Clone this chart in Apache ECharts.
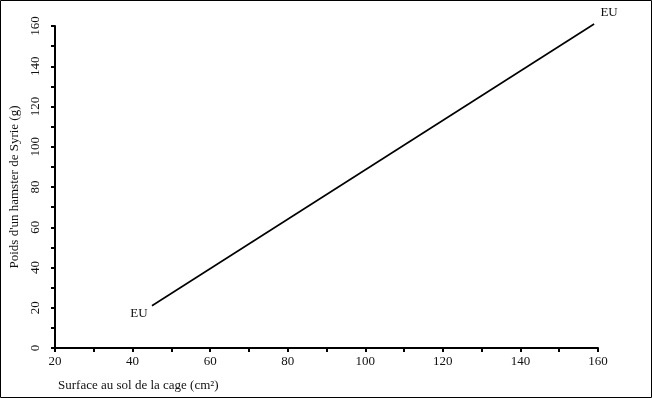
<!DOCTYPE html>
<html><head><meta charset="utf-8">
<script src="https://cdn.jsdelivr.net/npm/echarts@6/dist/echarts.min.js"></script>
<style>html,body{margin:0;padding:0;background:#fff}#c{width:652px;height:398px}</style>
</head><body><div id="c"></div>
<script>
const xTicks = [20, 40, 60, 80, 100, 120, 140, 160];
const yTicks = [0, 20, 40, 60, 80, 100, 120, 140, 160];
const lineX = [45, 159];
const lineY = [21, 161];
const pointLabels = ['EU', 'EU'];
const xTitle = 'Surface au sol de la cage (cm²)';
const yTitle = "Poids d'un hamster de Syrie (g)";

const font = 'Liberation Serif, DejaVu Serif, serif';
const chart = echarts.init(document.getElementById('c'));
chart.setOption({
  animation: false,
  backgroundColor: '#fff',
  title: {text: xTitle, left: 53, top: 374, textStyle: {fontFamily: font, fontSize: 13, fontWeight: 'normal', color: '#111'}},
  graphic: [{type: 'rect', shape: {x: 0.5, y: 0.5, width: 651, height: 397}, style: {fill: 'none', stroke: '#000', lineWidth: 1}}],
  grid: {left: 54, right: 54, top: 26, bottom: 50},
  xAxis: {
    type: 'value', min: xTicks[0], max: xTicks[xTicks.length-1], interval: 20,
    axisLine: {lineStyle: {color: '#000', width: 2}},
    axisTick: {show: true, length: 4, lineStyle: {color: '#000', width: 2}},
    minorTick: {show: true, splitNumber: 2, length: 4, lineStyle: {color: '#000', width: 2}},
    splitLine: {show: false},
    axisLabel: {fontFamily: font, fontSize: 13, color: '#111', margin: 7},
  },
  yAxis: {
    type: 'value', min: yTicks[0], max: yTicks[yTicks.length-1], interval: 20,
    name: yTitle, nameLocation: 'middle', nameGap: 34,
    nameTextStyle: {fontFamily: font, fontSize: 13, color: '#111'},
    axisLine: {show: true, lineStyle: {color: '#000', width: 2}},
    axisTick: {show: true, length: 4, lineStyle: {color: '#000', width: 2}},
    minorTick: {show: true, splitNumber: 2, length: 4, lineStyle: {color: '#000', width: 2}},
    splitLine: {show: false},
    axisLabel: {fontFamily: font, fontSize: 13, color: '#111', rotate: 90, margin: 13},
  },
  series: [{
    type: 'line', symbol: 'circle', symbolSize: 0.1, showSymbol: true, clip: false,
    itemStyle: {color: '#000'},
    lineStyle: {color: '#000', width: 1.6},
    label: {show: true},
    labelLayout: {hideOverlap: false},
    data: lineX.map((x, i) => ({
      value: [x, lineY[i]],
      label: {show: true, formatter: pointLabels[i], fontFamily: font, fontSize: 13, color: '#111',
        align: 'center', verticalAlign: 'middle',
        position: i === 0 ? [-13, 8] : [15, -11]}
    }))
  }]
});
</script></body></html>
